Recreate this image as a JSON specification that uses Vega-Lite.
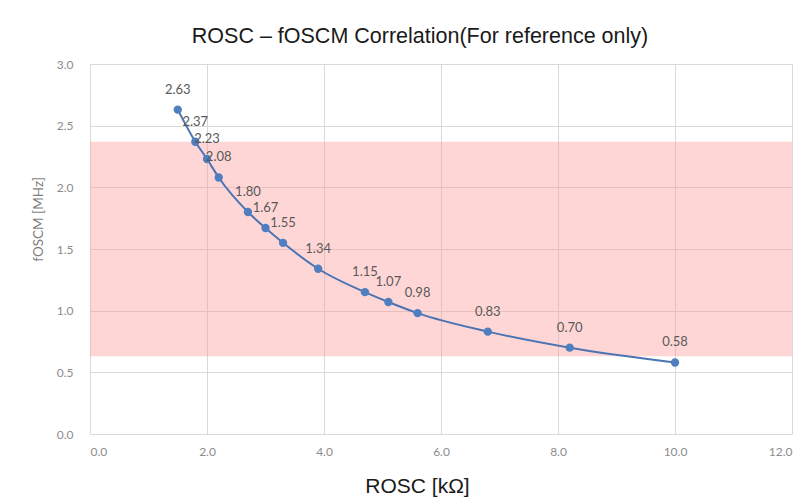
{
  "$schema": "https://vega.github.io/schema/vega-lite/v6.json",
  "width": 702,
  "height": 370,
  "autosize": {"type": "none"},
  "padding": {"left": 90, "top": 64, "right": 20, "bottom": 70},
  "background": "white",
  "title": {
    "text": "ROSC – fOSCM Correlation(For reference only)",
    "font": "Liberation Sans",
    "fontSize": 21.5,
    "fontWeight": "normal",
    "color": "#1a1a1a",
    "anchor": "middle",
    "dx": -21,
    "offset": 11
  },
  "datasets": {
    "band": [{"x0": 0, "x1": 12, "lo": 0.63, "hi": 2.37}],
    "pts": [
      {"r": 1.5, "f": 2.63},
      {"r": 1.8, "f": 2.37},
      {"r": 2.0, "f": 2.23},
      {"r": 2.2, "f": 2.08},
      {"r": 2.7, "f": 1.80},
      {"r": 3.0, "f": 1.67},
      {"r": 3.3, "f": 1.55},
      {"r": 3.9, "f": 1.34},
      {"r": 4.7, "f": 1.15},
      {"r": 5.1, "f": 1.07},
      {"r": 5.6, "f": 0.98},
      {"r": 6.8, "f": 0.83},
      {"r": 8.2, "f": 0.70},
      {"r": 10.0, "f": 0.58}
    ]
  },
  "config": {
    "view": {"stroke": null},
    "axis": {
      "gridColor": "#d9d9d9",
      "gridWidth": 1,
      "domain": false,
      "ticks": false,
      "labelFont": "Lato",
      "labelFontSize": 12,
      "labelColor": "#8c8c8c",
      "format": ".1f"
    }
  },
  "layer": [
    {
      "data": {"name": "band"},
      "mark": {"type": "rect", "fill": "#ff9999", "opacity": 0.4},
      "encoding": {
        "x": {"field": "x0", "type": "quantitative", "scale": {"domain": [0, 12]},
          "axis": {"values": [0, 2, 4, 6, 8, 10, 12], "labelPadding": 12,
            "title": "ROSC [kΩ]", "titleFont": "Liberation Sans", "titleFontSize": 21,
            "titleFontWeight": "normal", "titleColor": "#1a1a1a", "titlePadding": 18, "titleX": 327}},
        "x2": {"field": "x1"},
        "y": {"field": "lo", "type": "quantitative", "scale": {"domain": [0, 3]},
          "axis": {"values": [0, 0.5, 1, 1.5, 2, 2.5, 3], "labelPadding": 17,
            "title": "fOSCM [MHz]", "titleFont": "Lato", "titleFontSize": 13.5,
            "titleFontWeight": "normal", "titleColor": "#7f7f7f", "titlePadding": 11, "titleY": 155}},
        "y2": {"field": "hi"}
      }
    },
    {
      "data": {"name": "pts"},
      "mark": {"type": "line", "interpolate": "monotone", "color": "#4a74b4", "strokeWidth": 2},
      "encoding": {
        "x": {"field": "r", "type": "quantitative"},
        "y": {"field": "f", "type": "quantitative"}
      }
    },
    {
      "data": {"name": "pts"},
      "mark": {"type": "point", "filled": true, "size": 70, "color": "#4f7fc0", "opacity": 1},
      "encoding": {
        "x": {"field": "r", "type": "quantitative"},
        "y": {"field": "f", "type": "quantitative"}
      }
    },
    {
      "data": {"name": "pts"},
      "mark": {"type": "text", "dy": -20, "font": "Lato", "fontSize": 13, "color": "#595959"},
      "encoding": {
        "x": {"field": "r", "type": "quantitative"},
        "y": {"field": "f", "type": "quantitative"},
        "text": {"field": "f", "type": "quantitative", "format": ".2f"}
      }
    }
  ]
}
